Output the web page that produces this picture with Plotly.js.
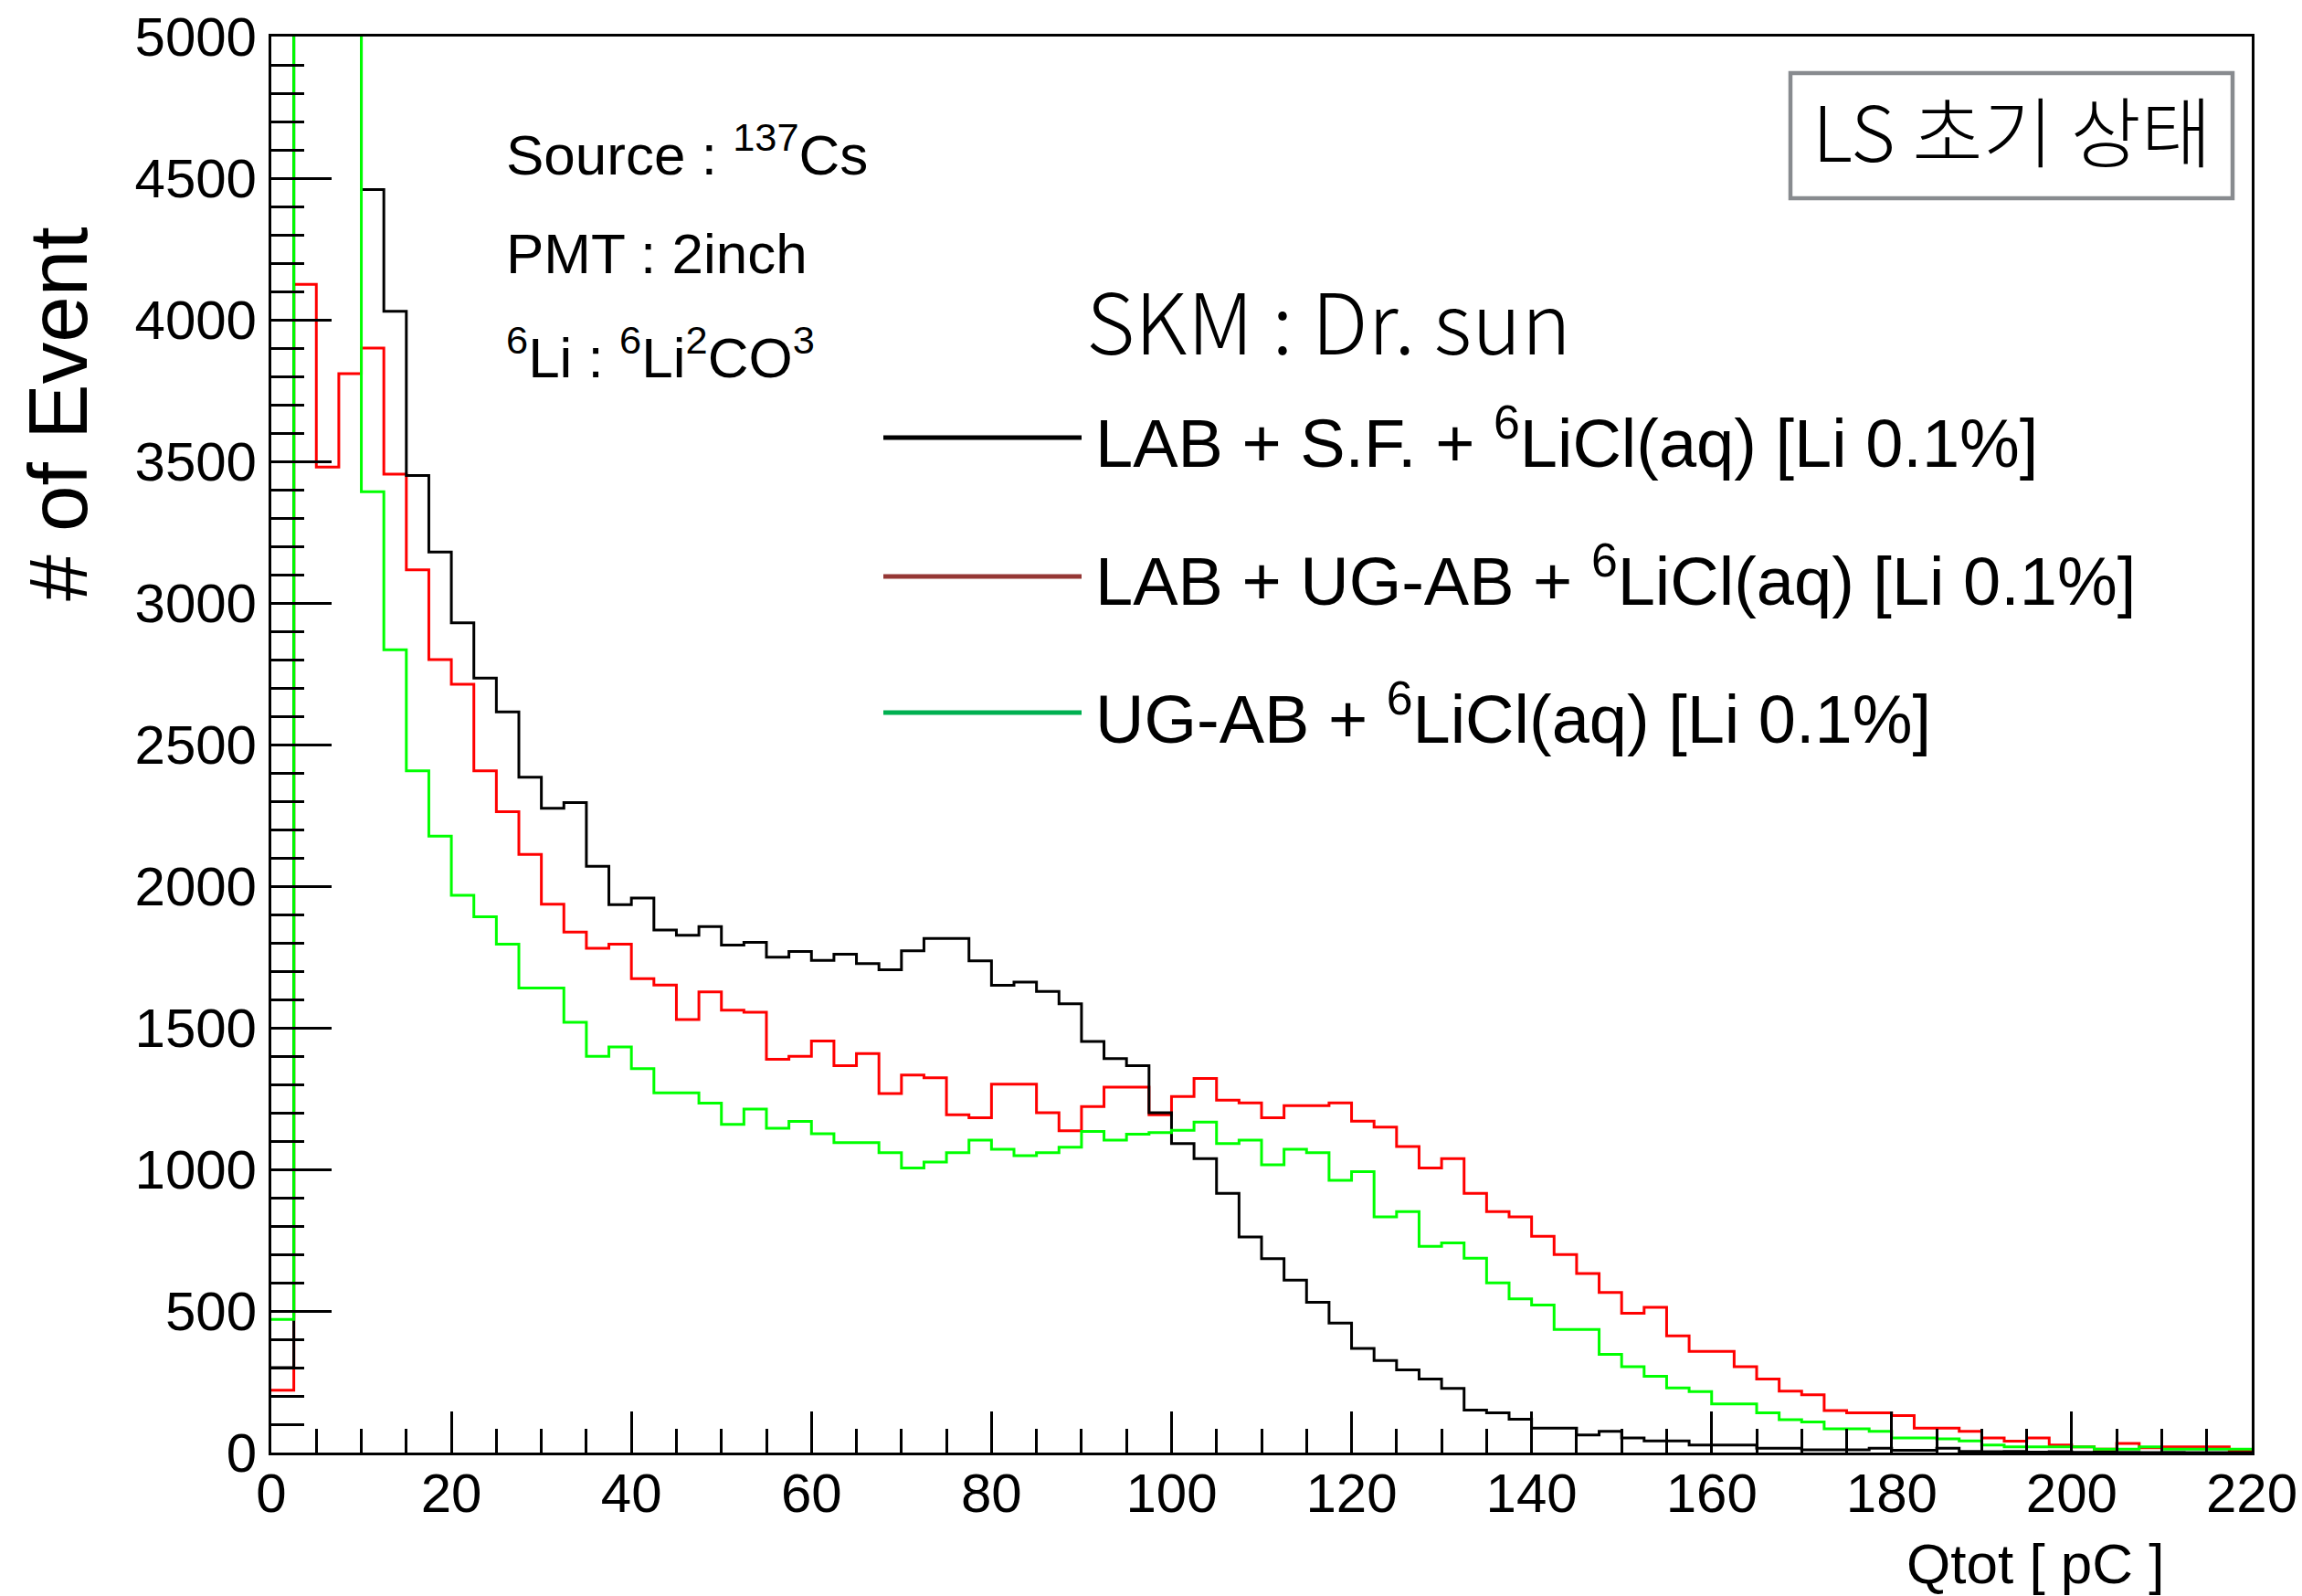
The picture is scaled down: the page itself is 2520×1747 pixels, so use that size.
<!DOCTYPE html>
<html>
<head>
<meta charset="utf-8">
<script src="https://cdn.plot.ly/plotly-3.0.1.min.js"></script>
<style>
  html, body { margin: 0; padding: 0; background: #ffffff; }
  #chart { width: 2520px; height: 1747px; }
</style>
</head>
<body>
<div id="chart"></div>
<script>
// ---- Data ----
// Histogram bin edges of Qtot [pC] (88 bins, 0 - 220)
const qtotBinEdges = [0,2.5,5,7.5,10,12.5,15,17.5,20,22.5,25,27.5,30,32.5,35,37.5,40,42.5,45,47.5,
  50,52.5,55,57.5,60,62.5,65,67.5,70,72.5,75,77.5,80,82.5,85,87.5,90,92.5,95,97.5,
  100,102.5,105,107.5,110,112.5,115,117.5,120,122.5,125,127.5,130,132.5,135,137.5,140,142.5,145,147.5,
  150,152.5,155,157.5,160,162.5,165,167.5,170,172.5,175,177.5,180,182.5,185,187.5,190,192.5,195,197.5,
  200,202.5,205,207.5,210,212.5,215,217.5,220];

// LAB + S.F. + 6LiCl(aq) [Li 0.1%]  (black)
const countsLabSF = [300,6000,6000,6000,4460,4030,3450,3180,2930,2735,
  2615,2385,2275,2295,2070,1935,1958,1845,1827,1857,
  1792,1802,1749,1769,1738,1760,1727,1705,1772,1815,
  1815,1736,1650,1661,1628,1585,1452,1391,1366,1200,
  1091,1038,915,761,685,609,531,457,368,325,
  292,260,227,150,140,118,86,86,62,75,
  52,41,41,27,27,27,15,15,10,10,
  10,15,8,8,15,4,3,4,2,3,
  1,2,1,0,1,0,0,0];

// LAB + UG-AB + 6LiCl(aq) [Li 0.1%]  (red)
const countsLabUgab = [220,4125,3480,3810,3900,3455,3117,2800,2713,2407,
  2263,2112,1936,1838,1781,1795,1673,1651,1529,1627,
  1562,1555,1389,1399,1453,1366,1409,1268,1333,1323,
  1193,1182,1301,1301,1200,1136,1222,1290,1290,1193,
  1257,1321,1244,1235,1182,1225,1225,1235,1170,1149,
  1081,1005,1038,915,851,832,764,699,632,565,
  492,513,412,357,357,303,260,217,204,148,
  140,140,131,86,86,75,52,40,52,27,
  20,12,32,17,20,20,20,5];

// UG-AB + 6LiCl(aq) [Li 0.1%]  (green)
const countsUgab = [470,6000,6000,6000,3393,2835,2407,2177,1968,1892,
  1795,1640,1640,1519,1399,1432,1356,1270,1270,1234,
  1159,1213,1145,1169,1126,1094,1094,1059,1005,1026,
  1059,1103,1071,1048,1059,1078,1134,1103,1124,1130,
  1138,1167,1091,1103,1016,1071,1059,961,992,832,
  851,728,740,686,599,543,521,435,435,347,
  303,269,228,215,172,172,140,116,108,84,
  84,75,52,52,48,41,27,20,20,20,
  20,12,12,20,12,12,12,12];

const yTickVals = [0,500,1000,1500,2000,2500,3000,3500,4000,4500,5000];
const xTickVals = [0,20,40,60,80,100,120,140,160,180,200,220];

const seriesNames = [
  'LAB + S.F. + <sup>6</sup>LiCl(aq) [Li 0.1%]',
  'LAB + UG-AB + <sup>6</sup>LiCl(aq) [Li 0.1%]',
  'UG-AB + <sup>6</sup>LiCl(aq) [Li 0.1%]'
];
const lineColors = ['#000000', '#ff0000', '#00ff00'];
const legendColors = ['#000000', '#953735', '#00b050'];

// ---- helpers ----
function stepY(counts) { return counts.concat([counts[counts.length - 1]]); }
function stepTrace(counts, color, name) {
  return {
    type: 'scatter', mode: 'lines', name: name,
    x: qtotBinEdges, y: stepY(counts),
    line: { color: color, width: 3, shape: 'hv' },
    showlegend: false, hoverinfo: 'skip'
  };
}

const traces = [
  stepTrace(countsLabUgab, lineColors[1], seriesNames[1]),
  stepTrace(countsLabSF, lineColors[0], seriesNames[0]),
  stepTrace(countsUgab, lineColors[2], seriesNames[2])
];

// pixel -> paper helpers (plot area: x 297..2465, y 40..1590)
const PL = 297, PR = 2465, PT = 40, PB = 1590;
const px = v => (v - PL) / (PR - PL);
const py = v => (PB - v) / (PB - PT);

const sansFont = 'Liberation Sans, Arial, Helvetica, sans-serif';
const krFont = 'Noto Sans CJK KR, Noto Sans, sans-serif';

const annotations = [
  { text: '# of Event', xref: 'paper', yref: 'paper', x: px(63), y: py(453),
    xanchor: 'center', yanchor: 'middle', textangle: -90, showarrow: false,
    font: { family: sansFont, size: 91, color: '#000' } },
  { text: 'Qtot [ pC ]', xref: 'paper', yref: 'paper', x: px(2372), y: py(1711),
    xanchor: 'right', yanchor: 'middle', showarrow: false,
    font: { family: sansFont, size: 62, color: '#000' } },
  { text: 'Source : <sup>137</sup>Cs', xref: 'paper', yref: 'paper', x: px(552), y: py(165),
    xanchor: 'left', yanchor: 'middle', showarrow: false,
    font: { family: sansFont, size: 62, color: '#000' } },
  { text: 'PMT : 2inch', xref: 'paper', yref: 'paper', x: px(552), y: py(277),
    xanchor: 'left', yanchor: 'middle', showarrow: false,
    font: { family: sansFont, size: 62, color: '#000' } },
  { text: '<sup>6</sup>Li : <sup>6</sup>Li<sup>2</sup>CO<sup>3</sup>', xref: 'paper', yref: 'paper', x: px(552), y: py(387),
    xanchor: 'left', yanchor: 'middle', showarrow: false,
    font: { family: sansFont, size: 62, color: '#000' } },
  { text: 'SKM : Dr. sun', xref: 'paper', yref: 'paper', x: px(1187), y: py(347),
    xanchor: 'left', yanchor: 'middle', showarrow: false,
    font: { family: krFont, size: 92, weight: 300, color: '#000' } },
  { text: 'LS 초기 상태', xref: 'paper', yref: 'paper', x: px(2202), y: py(140),
    xanchor: 'center', yanchor: 'middle', showarrow: false,
    font: { family: krFont, size: 84, weight: 300, color: '#000' } }
];

const legendLineY = [479, 631, 780];
const legendTextY = [480, 631, 782];
const shapes = [
  { type: 'rect', xref: 'paper', yref: 'paper', x0: px(1960), x1: px(2444), y0: py(217), y1: py(80),
    line: { color: '#888b8f', width: 4.5 }, fillcolor: 'rgba(0,0,0,0)' }
];
for (let i = 0; i < 3; i++) {
  shapes.push({ type: 'line', xref: 'paper', yref: 'paper', x0: px(967), x1: px(1184),
    y0: py(legendLineY[i]), y1: py(legendLineY[i]),
    line: { color: legendColors[i], width: 5 } });
  annotations.push({ text: seriesNames[i], xref: 'paper', yref: 'paper', x: px(1197), y: py(legendTextY[i]),
    xanchor: 'left', yanchor: 'middle', showarrow: false,
    font: { family: sansFont, size: 74, color: '#000' } });
}

const layout = {
  width: 2520, height: 1747,
  paper_bgcolor: '#ffffff', plot_bgcolor: '#ffffff',
  margin: { l: PL, r: 2520 - PR, t: PT, b: 1747 - PB, pad: 0 },
  showlegend: false,
  xaxis: {
    range: [0, 220], tickvals: xTickVals, ticktext: xTickVals.map(String),
    ticks: 'inside', ticklen: 45, tickwidth: 3, tickcolor: '#000',
    minor: { dtick: 5, tick0: 0, ticks: 'inside', ticklen: 26, tickwidth: 3, tickcolor: '#000', showgrid: false },
    showline: true, linecolor: '#000', linewidth: 3, mirror: true,
    showgrid: false, zeroline: false,
    tickfont: { family: sansFont, size: 60, color: '#000' },
    ticklabelstandoff: -10
  },
  yaxis: {
    range: [0, 5000], tickvals: yTickVals, ticktext: yTickVals.map(String),
    ticks: 'inside', ticklen: 66, tickwidth: 3, tickcolor: '#000',
    minor: { dtick: 100, tick0: 0, ticks: 'inside', ticklen: 36, tickwidth: 3, tickcolor: '#000', showgrid: false },
    showline: true, linecolor: '#000', linewidth: 3, mirror: true,
    showgrid: false, zeroline: false,
    tickfont: { family: sansFont, size: 60, color: '#000' },
    ticklabelstandoff: 1
  },
  annotations: annotations,
  shapes: shapes
};

Plotly.newPlot('chart', traces, layout, { staticPlot: true, displayModeBar: false });
</script>
</body>
</html>
